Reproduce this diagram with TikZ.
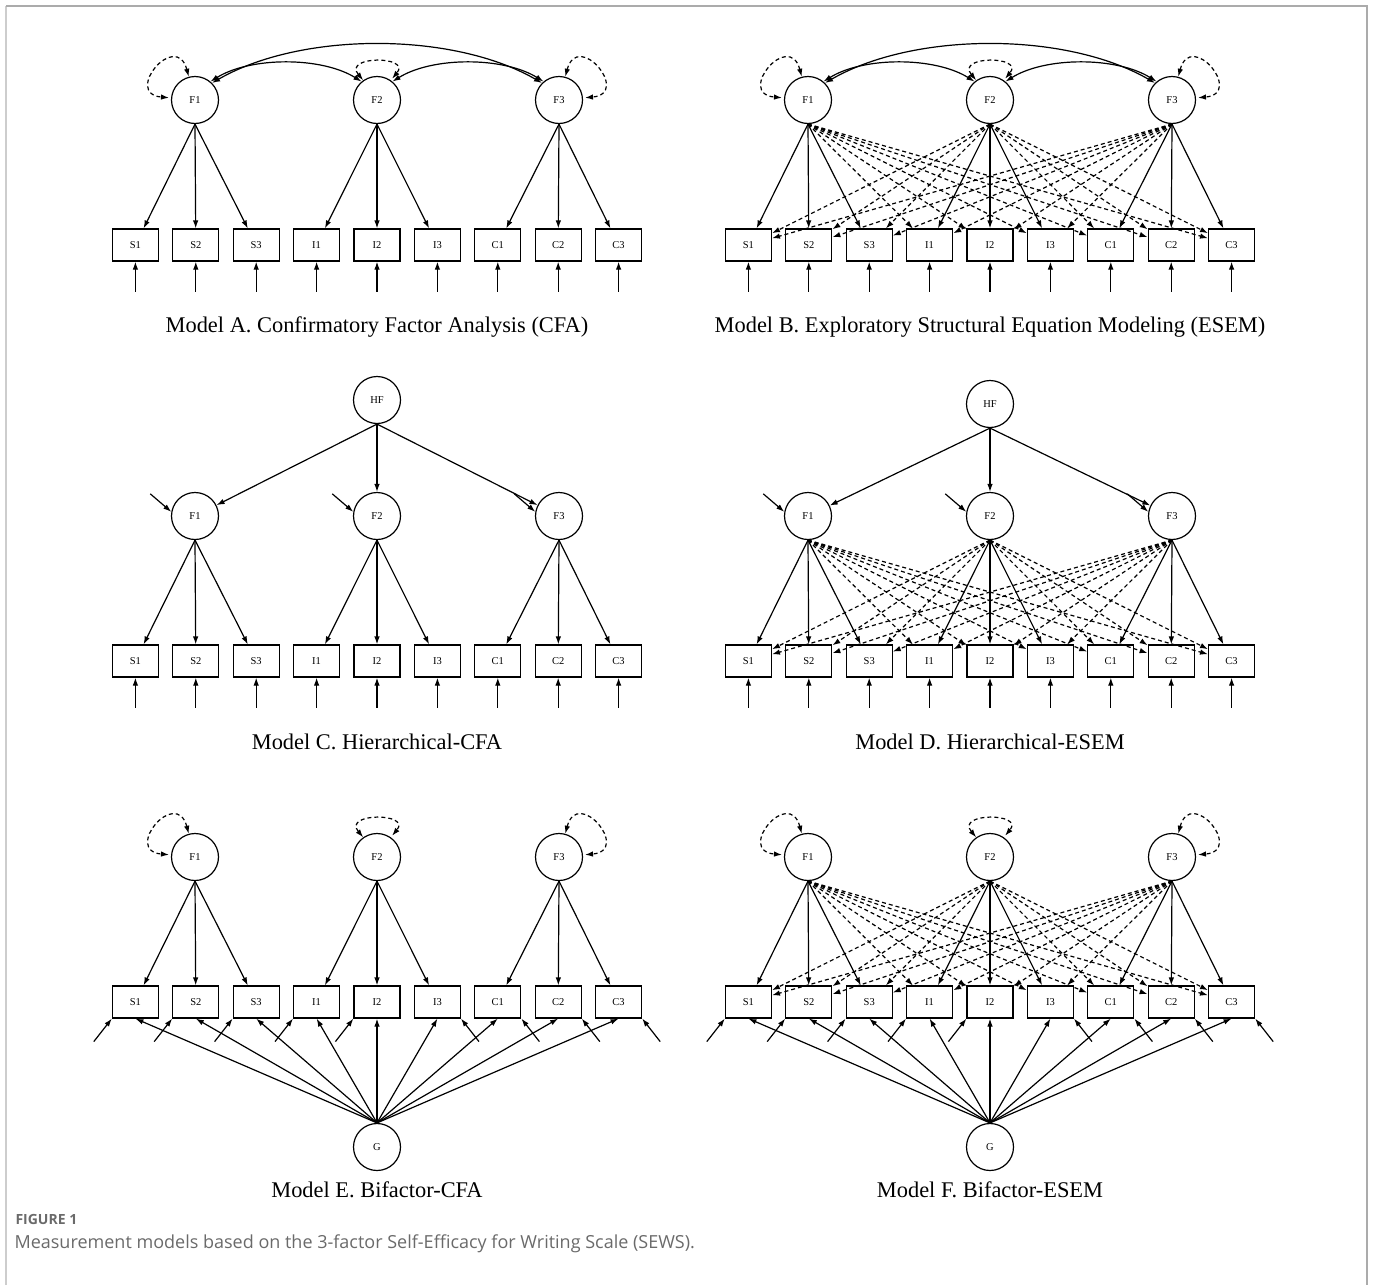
\documentclass[tikz,border=0pt]{standalone}
\usepackage{fontspec}
\setmainfont{Liberation Serif}
\newfontfamily\capfont{Open Sans}
\usetikzlibrary{arrows.meta,positioning}
\definecolor{framegray}{HTML}{ABABAB}
\definecolor{capgray}{HTML}{6A6A6A}

\begin{document}
\begin{tikzpicture}[x=1pt, y=1pt,
    latent/.style = {draw, circle, line width=1.2pt, minimum size=47pt, inner sep=0pt,
                     font=\fontsize{10.5}{12}\selectfont},
    manifest/.style = {draw, rectangle, line width=1.2pt, minimum width=46pt,
                       minimum height=32pt, inner sep=0pt, font=\fontsize{10.5}{12}\selectfont},
    load/.style = {-{Latex[length=8pt,width=5.5pt]}, line width=1.2pt},
    cross/.style = {load, dash pattern=on 4pt off 3pt},
    cov/.style = {{Latex[length=8pt,width=5.5pt]}-{Latex[length=8pt,width=5.5pt]}, line width=1.2pt},
    var/.style = {cov, dash pattern=on 4pt off 3pt, shorten >=2pt},
    title/.style = {font=\fontsize{22.4}{26}\selectfont}]
    \useasboundingbox (0,0) rectangle (1373,-1285);
    \draw [framegray!60, line width=2.5pt] (6,-1285) -- (6,-6);
    \draw [framegray, line width=1.5pt] (6,-6) -- (1367,-6) -- (1367,-1285);

    \foreach \p/\cx/\fy in {A/377/100, B/990/100, C/377/516, D/990/516, E/377/857, F/990/857} {
      \begin{scope}[shift={(\cx,-\fy)}]
        \foreach \f [count=\i] in {F1,F2,F3}
          \node [latent] (\p-\f) at ({(\i-2)*182},0) {\f};
        \foreach \v [count=\i] in {S1,S2,S3,I1,I2,I3,C1,C2,C3}
          \node [manifest] (\p-\v) at ({(\i-5)*60.4},-145) {\v};
      \end{scope}
      \foreach \v/\f in {S1/F1,S2/F1,S3/F1,I1/F2,I2/F2,I3/F2,C1/F3,C2/F3,C3/F3}
        \draw [load] (\p-\f.south) -- (\p-\v);
    }

    \foreach \p in {B,D,F}
      \foreach \f/\k in {F1/1,F2/2,F3/3}
        \foreach \v [count=\i] in {S1,S2,S3,I1,I2,I3,C1,C2,C3} {
          \pgfmathtruncatemacro{\grp}{(\i+2)/3}
          \ifnum\grp=\k\relax\else
            \draw [cross] (\p-\f.south) -- (\p-\v);
          \fi
        }

    \foreach \p in {A,B,C,D}
      \foreach \v in {S1,S2,S3,I1,I2,I3,C1,C2,C3} {
        \coordinate [below=30pt of \p-\v] (\p-e\v);
        \draw [load] (\p-e\v) -- (\p-\v);
      }

    \foreach \p in {A,B} {
      \draw [cov] (\p-F1.45) to[bend left=30, looseness=0.8] (\p-F3.135);
      \draw [cov] (\p-F1.50) to[bend left=32, looseness=0.8] (\p-F2.130);
      \draw [cov] (\p-F2.50) to[bend left=32, looseness=0.8] (\p-F3.130);
    }

    \foreach \p in {A,B,E,F} {
      \draw [var] (\p-F1.105) to[out=105, in=175, looseness=4.5] (\p-F1.175);
      \draw [var] (\p-F2.125) to[out=130, in=50, looseness=3] (\p-F2.55);
      \draw [var] (\p-F3.75) to[out=75, in=5, looseness=4.5] (\p-F3.5);
    }

    \foreach \p/\cx/\hy in {C/377/400, D/990/404} {
      \node [latent] (\p-HF) at (\cx,-\hy) {HF};
      \foreach \f in {F1,F2,F3} {
        \draw [load] (\p-HF.south) -- (\p-\f);
        \coordinate (\p-d\f) at ([shift={(-21,18)}]\p-\f.170);
        \draw [load] (\p-d\f) -- (\p-\f.170);
      }
    }

    \foreach \p/\cx in {E/377, F/990} {
      \node [latent] (\p-G) at (\cx,-1147) {G};
      \foreach \v in {S1,S2,S3,I1,I2,I3,C1,C2,C3}
        \draw [load] (\p-G.north) -- (\p-\v.south);
      \foreach \v in {S1,S2,S3,I1,I2} {
        \coordinate (\p-e\v) at ([shift={(-18,-23)}]\p-\v.south west);
        \draw [load] (\p-e\v) -- (\p-\v.south west);
      }
      \foreach \v in {I3,C1,C2,C3} {
        \coordinate (\p-e\v) at ([shift={(18,-23)}]\p-\v.south east);
        \draw [load] (\p-e\v) -- (\p-\v.south east);
      }
    }

    \node [title] (A-title) at (377,-327) {Model A. Confirmatory Factor Analysis (CFA)};
    \node [title] (B-title) at (990,-327) {Model B. Exploratory Structural Equation Modeling (ESEM)};
    \node [title] (C-title) at (377,-742) {Model C. Hierarchical-CFA};
    \node [title] (D-title) at (990,-742) {Model D. Hierarchical-ESEM};
    \node [title] (E-title) at (377,-1190) {Model E. Bifactor-CFA};
    \node [title] (F-title) at (990,-1190) {Model F. Bifactor-ESEM};

    \node [anchor=west, text=capgray, font=\capfont\bfseries\fontsize{14}{16}\selectfont] (fig) at (12,-1219) {FIGURE 1};
    \node [anchor=west, text=capgray, font=\capfont\fontsize{18}{21}\selectfont] (caption) at (11,-1244)
      {Measurement models based on the 3-factor Self-Efficacy for Writing Scale (SEWS).};
\end{tikzpicture}
\end{document}
